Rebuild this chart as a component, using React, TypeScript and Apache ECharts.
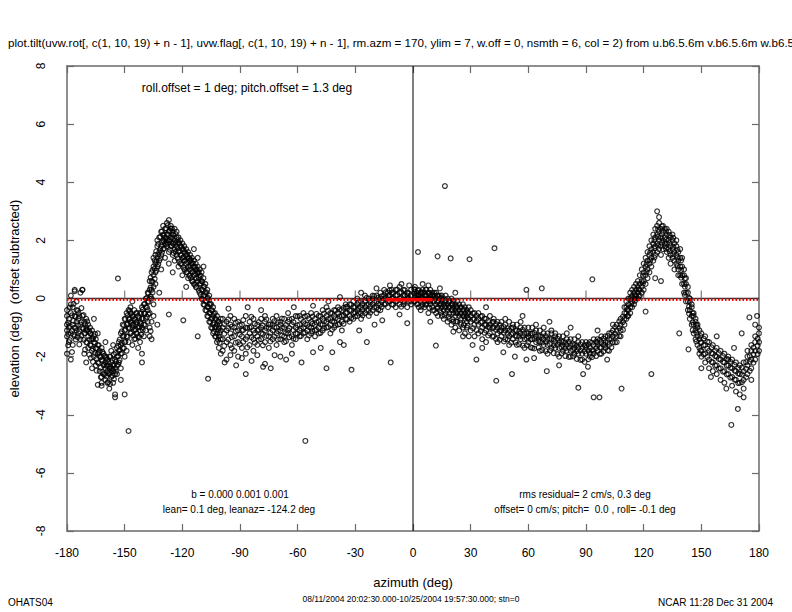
import React, { useEffect, useRef } from "react";
import * as echarts from "echarts";

// ---------- tick values ----------
const xTicks = [-180, -150, -120, -90, -60, -30, 0, 30, 60, 90, 120, 150, 180];

// ---------- scatter data: rows are [azimuth, elevation, elevation, ...] ----------
const troughWest: number[][] = [
  [-180, -0.9, -1.3, -0.6, -1.9, -1.1, -0.4],
  [-179, -1.0, -0.7, -1.5],
  [-178, -0.5, -1.2, -0.2, -2.1],
  [-177, -0.9, -0.3, -1.6],
  [-176, 0.3, -0.6, -1.0, -1.3],
  [-175, -0.4, -0.8, -1.1, -0.1],
  [-174, -1.2, -0.7, -0.5],
  [-173, 0.2, -0.9, -1.4],
  [-172, -0.6, -1.0, 0.3],
  [-171, -0.8, -1.2, -1.9],
  [-170, -1.0, -0.7, -1.5, -1.1],
  [-169, -1.3, -0.9, -1.7],
  [-168, -1.2, -1.6, -1.0],
  [-167, -1.4, -1.8, -1.1, -2.4],
  [-166, -1.5, -1.3, -2.0],
  [-165, -1.7, -1.4, -2.3],
  [-164, -1.9, -1.6, -2.2, -1.2],
  [-163, -2.0, -2.5, -1.8],
  [-162, -2.1, -1.7, -2.7, -2.9],
  [-161, -2.3, -1.9, -2.6],
  [-160, -2.2, -2.4, -2.0, -2.8],
  [-159, -2.5, -2.1, -2.3, -2.9],
  [-158, -2.4, -2.0, -2.6, -3.1],
  [-157, -2.2, -2.7, -2.4, -1.8],
  [-156, -2.5, -2.3, -2.9, -1.6],
  [-155, -2.1, -2.4, -2.6, -3.3],
  [-154, -2.0, -2.3, -1.7, -2.6],
  [-153, -1.8, -2.2, -1.5],
  [-152, -1.6, -1.9, -2.4, -1.2],
  [-151, -1.3, -1.7, -0.9],
  [-150, -1.1, -1.5, -0.7, -2.0],
  [-149, -0.9, -1.3, -0.5, -1.8],
  [-148, -0.7, -1.0, -1.5, -0.4],
  [-147, -0.8, -0.5, -1.2, -0.3],
  [-146, -0.6, -1.0, -0.9, -1.6],
  [-145, -0.7, -1.1, -0.4, -1.4],
  [-144, -0.9, -0.5, -1.2, -0.8],
  [-143, -1.0, -0.6, -1.3, -1.7],
  [-142, -0.8, -1.1, -0.5, -1.5],
  [-141, -0.7, -1.0, -0.3, -1.9],
  [-140, -0.5, -0.9, -0.2, -1.3],
  [-139, -0.3, -0.7, 0.0, -1.1],
  [-138, -0.1, -0.4, 0.2, -0.8],
  [-137, 0.3, 0.0, 0.6, -0.5, -1.0, -1.3],
  [-136, 0.6, 0.3, 0.9, 0.0, -0.8, -1.4],
];

const troughWestExtra: number[][] = [
  [-179.4, -1.22, -0.83, -1.61], [-178.6, -0.94, -1.43, -0.31], [-177.4, -1.12, -0.58, -1.84],
  [-176.6, -0.77, -1.24, -0.18], [-175.5, -0.63, -1.02, -1.41], [-174.4, -0.92, -1.33, -0.42],
  [-173.6, -1.13, -0.61, -1.58], [-172.5, -0.81, -1.27, -0.33], [-171.4, -1.04, -1.42, -0.57],
  [-170.6, -1.19, -0.88, -1.76], [-169.5, -1.08, -1.52, -0.79], [-168.4, -1.41, -1.13, -1.93],
  [-167.6, -1.62, -1.21, -2.04], [-166.5, -1.73, -1.38, -2.18], [-165.4, -1.88, -1.53, -1.22],
  [-164.6, -2.07, -1.72, -2.48], [-163.5, -2.23, -1.86, -1.61], [-162.4, -2.37, -2.02, -2.71],
  [-161.6, -2.14, -2.53, -1.83], [-160.5, -2.61, -2.28, -1.97], [-159.4, -2.32, -2.68, -2.04],
  [-158.6, -2.57, -2.19, -2.88], [-157.5, -2.34, -2.52, -2.01], [-156.4, -2.66, -2.12, -2.43],
  [-155.6, -2.28, -2.77, -1.92], [-154.5, -2.17, -1.88, -2.51], [-153.4, -1.98, -1.63, -2.27],
  [-152.6, -1.77, -1.41, -2.12], [-151.5, -1.52, -1.13, -1.88], [-150.4, -1.28, -0.92, -1.71],
  [-149.6, -1.07, -0.71, -1.49], [-148.5, -0.88, -0.58, -1.32], [-147.4, -0.71, -1.03, -0.42],
  [-146.6, -0.83, -1.18, -0.52], [-145.5, -0.91, -0.62, -1.27], [-144.4, -1.06, -0.72, -1.38],
  [-143.6, -0.82, -1.21, -0.49], [-142.5, -0.97, -0.68, -1.33], [-141.4, -0.88, -0.52, -1.24],
  [-140.6, -0.69, -1.08, -0.38], [-139.5, -0.52, -0.91, -0.18], [-138.4, -0.31, -0.63, 0.02],
  [-137.6, -0.12, 0.18, -0.54], [-136.5, 0.38, 0.07, 0.72, -1.12],
];

const humpWest: number[][] = [
  [-135, 0.8, 1.1, 0.4, 1.4, -0.2, -0.6],
  [-134, 1.2, 1.5, 0.9, 0.5],
  [-133, 1.4, 1.8, 1.1, 2.0],
  [-132, 1.6, 2.1, 1.3, 0.2],
  [-131, 1.8, 2.3, 1.5, 1.0],
  [-130, 2.0, 2.5, 1.7, 2.2],
  [-129, 2.1, 1.9, 2.4, 1.4],
  [-128, 2.2, 2.6, 1.8, 2.0],
  [-127, 2.3, 2.0, 2.7, 1.6, 1.2],
  [-126, 2.1, 2.4, 1.8, 2.5],
  [-125, 2.2, 1.9, 2.3, 1.5],
  [-124, 2.0, 2.4, 1.7, 1.3],
  [-123, 2.1, 1.8, 1.5, 2.3],
  [-122, 1.9, 1.6, 2.1, 1.1],
  [-121, 1.8, 1.5, 1.2, 2.0],
  [-120, 1.7, 1.4, 1.9, 0.8],
  [-119, 1.6, 1.3, 1.0, 1.8],
  [-118, 1.5, 1.2, 1.7, 0.9],
  [-117, 1.4, 1.1, 1.6, 0.7],
  [-116, 1.3, 1.0, 1.5, 0.8],
  [-115, 1.2, 0.9, 1.4, 0.6],
  [-114, 1.1, 0.8, 1.3, 0.5],
  [-113, 1.0, 0.7, 1.2, 0.4],
  [-112, 0.9, 0.6, 1.1, 1.4],
  [-111, 0.8, 0.5, 0.2, 1.0],
  [-110, 0.6, 0.3, 0.9, 0.0],
  [-109, 0.4, 0.1, 0.7, -0.2],
  [-108, 0.2, -0.1, 0.5, -0.4],
  [-107, 0.0, -0.3, -0.6, 0.3],
  [-106, -0.2, -0.5, -0.8, 0.1],
  [-105, -0.4, -0.7, -1.0, -0.2],
  [-104, -0.6, -0.9, -0.3, -1.2],
  [-103, -0.7, -1.0, -1.3, -0.5],
  [-102, -0.9, -1.2, -0.6, -1.5],
  [-101, -1.0, -0.8, -1.3, -1.7],
  [-100, -1.1, -0.7, -1.4, -1.9],
];

const humpWestExtra: number[][] = [
  [-135.5, 0.57, 0.98, 0.21], [-134.4, 1.03, 1.31, 0.68], [-133.6, 1.27, 1.62, 0.96],
  [-132.5, 1.52, 1.88, 1.18], [-131.4, 1.71, 2.12, 1.38], [-130.6, 1.93, 2.31, 1.58],
  [-129.5, 2.18, 1.97, 1.72], [-128.4, 2.42, 2.08, 1.87], [-127.6, 2.21, 2.52, 1.91],
  [-126.5, 2.33, 2.02, 1.68], [-125.4, 2.08, 2.41, 1.81], [-124.6, 2.19, 1.88, 1.57],
  [-123.5, 1.92, 2.22, 1.61], [-122.4, 2.01, 1.72, 1.38], [-121.6, 1.63, 1.91, 1.27],
  [-120.5, 1.78, 1.49, 1.18], [-119.4, 1.42, 1.69, 1.07], [-118.6, 1.58, 1.31, 0.98],
  [-117.5, 1.27, 1.52, 0.91], [-116.4, 1.38, 1.09, 0.78], [-115.6, 1.12, 1.33, 0.71],
  [-114.5, 1.21, 0.92, 0.58], [-113.4, 0.88, 1.08, 0.47], [-112.6, 0.98, 0.69, 0.38],
  [-111.5, 0.71, 0.91, 0.28], [-110.4, 0.52, 0.78, 0.12], [-109.6, 0.31, 0.58, -0.03],
  [-108.5, 0.12, 0.41, -0.22], [-107.4, -0.08, 0.21, -0.41], [-106.6, -0.28, 0.02, -0.62],
  [-105.5, -0.49, -0.18, -0.81], [-104.4, -0.68, -0.41, -1.02], [-103.6, -0.82, -0.52, -1.13],
  [-102.5, -0.98, -0.71, -1.31], [-101.4, -1.09, -0.79, -1.42], [-100.6, -1.18, -0.88, -1.52],
];

const plateauWest: number[][] = [
  [-99, -1.0, -1.4, -0.7, -1.8],
  [-97, -1.1, -0.8, -1.5, -2.1],
  [-95, -1.2, -0.9, -1.6, -0.6],
  [-93, -1.0, -1.3, -1.8, -0.7],
  [-91, -1.1, -1.5, -0.8, -2.0],
  [-89, -1.3, -0.9, -1.7, -1.1],
  [-87, -1.0, -1.4, -0.6, -1.9],
  [-85, -1.2, -0.8, -1.6, -1.0],
  [-83, -1.1, -1.4, -0.7, -1.8],
  [-81, -0.9, -1.3, -1.1, -1.6],
  [-79, -1.0, -0.7, -1.4, -1.2],
  [-77, -1.1, -0.8, -1.5, -0.6],
  [-75, -0.9, -1.3, -1.0, -1.7],
  [-73, -1.1, -0.7, -1.4, -0.9],
  [-71, -1.0, -1.2, -0.6, -1.6],
  [-69, -0.8, -1.1, -1.4, -0.9],
  [-67, -1.0, -0.7, -1.3, -1.5],
  [-65, -1.1, -0.8, -1.2, -0.5],
  [-63, -0.9, -1.3, -0.7, -1.6],
  [-61, -1.0, -1.2, -0.6, -1.4],
  [-59, -0.9, -0.6, -1.1, -1.3],
  [-57, -1.0, -0.8, -1.2, -0.5],
  [-55, -0.9, -1.1, -0.6, -1.4],
  [-53, -0.8, -1.0, -0.5, -1.2],
  [-51, -0.9, -0.7, -1.1, -1.3],
  [-49, -0.8, -1.0, -0.6, -1.2],
  [-47, -0.7, -0.9, -0.4, -1.1],
  [-45, -0.8, -0.6, -1.0, -0.3],
  [-43, -0.7, -0.5, -0.9, -1.2],
  [-41, -0.6, -0.8, -0.4, -1.0],
  [-39, -0.7, -0.5, -0.3, -0.9],
  [-37, -0.6, -0.4, -0.8, -1.1],
  [-35, -0.5, -0.3, -0.7, -0.2],
  [-33, -0.4, -0.6, -0.2, -0.8],
  [-31, -0.5, -0.3, -0.7, -0.1],
  [-29, -0.4, -0.2, -0.6, 0.0],
  [-27, -0.3, -0.5, -0.1, -0.7],
  [-25, -0.3, -0.1, -0.5, 0.1],
  [-23, -0.2, -0.4, 0.0, -0.6],
  [-21, -0.2, 0.0, -0.4, 0.1],
  [-19, -0.1, 0.1, -0.3, -0.5],
  [-17, 0.0, -0.2, 0.2, -0.4],
  [-15, 0.0, 0.1, -0.2, 0.3],
  [-13, 0.1, -0.1, 0.2, -0.3],
  [-11, 0.0, 0.2, -0.2, 0.3],
  [-9, 0.1, -0.1, 0.3, -0.3],
  [-7, 0.0, 0.2, -0.2, 0.4],
  [-5, 0.1, -0.1, 0.3, -0.2],
  [-3, 0.0, 0.2, -0.3, 0.1],
  [-1, 0.1, -0.1, 0.3, -0.2],
];

const plateauWestExtra: number[][] = [
  [-98.2, -1.21, -0.88, -1.63], [-96.1, -1.02, -1.41, -0.72], [-94.3, -1.33, -0.97, -1.71],
  [-92.2, -1.12, -1.52, -0.83], [-90.1, -1.24, -0.91, -1.58], [-88.3, -1.08, -1.49, -0.74],
  [-86.2, -1.31, -1.02, -1.68], [-84.1, -0.98, -1.33, -0.63], [-82.3, -1.19, -0.87, -1.52],
  [-80.2, -1.07, -1.42, -0.81], [-78.1, -1.22, -0.93, -1.61], [-76.3, -1.01, -1.29, -0.72],
  [-74.2, -1.18, -0.89, -1.48], [-72.1, -0.99, -1.31, -0.78], [-70.3, -1.12, -0.82, -1.41],
  [-68.2, -1.01, -1.28, -0.69], [-66.1, -0.91, -1.19, -1.47], [-64.3, -1.02, -0.72, -1.33],
  [-62.2, -1.09, -0.81, -1.38], [-60.1, -0.92, -1.21, -0.62], [-58.3, -1.03, -0.71, -1.29],
  [-56.2, -0.88, -1.17, -0.61], [-54.1, -0.98, -0.69, -1.27], [-52.3, -0.87, -0.62, -1.12],
  [-50.2, -0.82, -1.08, -0.53], [-48.1, -0.89, -0.61, -1.18], [-46.3, -0.78, -0.52, -1.02],
  [-44.2, -0.71, -0.98, -0.42], [-42.1, -0.79, -0.51, -1.07], [-40.3, -0.68, -0.41, -0.92],
  [-38.2, -0.61, -0.88, -0.38], [-36.1, -0.58, -0.32, -0.87], [-34.3, -0.49, -0.72, -0.28],
  [-32.2, -0.42, -0.68, -0.21], [-30.1, -0.48, -0.29, -0.62], [-28.3, -0.32, -0.51, -0.12],
  [-26.2, -0.38, -0.19, -0.58], [-24.1, -0.22, -0.41, 0.02], [-22.3, -0.28, -0.08, -0.49],
  [-20.2, -0.12, -0.31, 0.08], [-18.1, -0.18, 0.02, -0.38], [-16.3, 0.08, -0.11, -0.29],
  [-14.2, 0.02, 0.21, -0.18], [-12.1, 0.11, -0.09, 0.28], [-10.3, 0.01, 0.19, -0.21],
  [-8.2, 0.12, 0.31, -0.08], [-6.1, 0.02, 0.22, -0.28], [-4.3, 0.09, -0.12, 0.29],
  [-2.2, 0.01, 0.18, -0.11],
];

const slopeEast: number[][] = [
  [1, 0.1, 0.3, -0.1, 0.4],
  [2, 0.0, 0.2, -0.2, 0.1],
  [3, 0.1, 0.3, -0.3, 0.0],
  [4, 0.2, -0.1, 0.1, -0.4],
  [5, 0.0, 0.2, 0.3, -0.2],
  [6, 0.1, -0.1, 0.2, -0.3],
  [7, 0.0, 0.3, -0.2, 0.1],
  [8, 0.2, -0.1, 0.0, -0.5],
  [9, 0.1, 0.3, -0.2, -0.1],
  [10, 0.0, 0.2, -0.3, 0.1],
  [11, -0.1, 0.1, -0.4, 0.2],
  [12, 0.0, -0.2, 0.2, -0.5],
  [13, -0.1, 0.1, -0.3, -0.6],
  [14, 0.0, -0.2, 0.1, -0.4],
  [15, -0.1, -0.3, 0.1, -0.6],
  [16, -0.2, 0.0, -0.4, -0.7],
  [17, -0.1, -0.3, 0.1, -0.5],
  [18, -0.2, -0.4, 0.0, -0.8],
  [19, -0.3, -0.1, -0.5, -0.7],
  [20, -0.2, -0.4, 0.0, -0.9],
  [21, -0.3, -0.5, -0.1, -0.8],
  [22, -0.4, -0.2, -0.6, -1.0],
  [23, -0.3, -0.5, -0.1, -0.8],
  [24, -0.4, -0.6, -0.2, -1.1],
  [25, -0.5, -0.3, -0.7, -0.9],
  [26, -0.4, -0.6, -0.2, -1.0],
  [27, -0.5, -0.7, -0.3, -1.2],
  [28, -0.6, -0.4, -0.8, -1.0],
  [29, -0.5, -0.7, -0.3, -1.3],
  [30, -0.6, -0.8, -0.4, -1.1],
  [32, -0.7, -0.5, -0.9, -1.3],
  [34, -0.7, -0.9, -0.5, -1.2],
  [36, -0.8, -0.6, -1.0, -1.4],
  [38, -0.9, -0.7, -1.1, -1.5],
  [40, -0.9, -0.6, -1.2, -1.0],
  [42, -1.0, -0.7, -1.3, -0.8],
  [44, -1.0, -1.2, -0.8, -1.5],
  [46, -1.1, -0.8, -1.3, -1.0],
  [48, -1.1, -0.9, -1.4, -0.7],
  [50, -1.1, -1.3, -0.8, -1.6],
  [52, -1.2, -0.9, -1.4, -1.0],
  [54, -1.1, -1.3, -0.9, -1.6],
  [56, -1.2, -1.0, -1.4, -0.8],
  [58, -1.2, -1.4, -1.0, -1.7],
  [60, -1.3, -1.0, -1.5, -1.2],
  [62, -1.2, -1.4, -1.0, -1.7],
  [64, -1.3, -1.1, -1.5, -0.9],
  [66, -1.3, -1.5, -1.1, -1.8],
  [68, -1.4, -1.2, -1.6, -1.0],
  [70, -1.4, -1.6, -1.2, -1.9],
  [72, -1.4, -1.2, -1.7, -1.1],
  [74, -1.5, -1.3, -1.7, -1.2],
  [76, -1.5, -1.7, -1.3, -2.0],
  [78, -1.5, -1.3, -1.8, -1.6],
  [80, -1.6, -1.4, -1.8, -1.2],
  [82, -1.6, -1.8, -1.4, -2.0],
  [84, -1.6, -1.4, -1.9, -1.7],
  [86, -1.7, -1.5, -1.9, -1.3],
  [88, -1.7, -1.9, -1.5, -2.1],
  [90, -1.7, -1.5, -1.9, -1.6],
  [92, -1.7, -1.9, -1.5, -2.0],
  [94, -1.6, -1.8, -1.4, -1.9],
  [96, -1.6, -1.4, -1.8, -1.5],
  [98, -1.5, -1.7, -1.3, -1.9],
  [100, -1.5, -1.3, -1.7, -1.6],
  [102, -1.4, -1.2, -1.6, -1.8],
  [104, -1.3, -1.1, -1.5, -0.9],
  [106, -1.1, -1.3, -0.9, -1.5],
  [108, -0.9, -1.1, -0.7, -1.3],
  [110, -0.7, -0.9, -0.5, -0.3],
];

const slopeEastExtra: number[][] = [
  [0.6, 0.18, -0.09, 0.32], [2.5, 0.11, -0.18, 0.27], [4.4, 0.02, 0.21, -0.28],
  [6.6, 0.09, -0.21, 0.31], [8.5, -0.02, 0.19, -0.32], [10.4, -0.08, 0.12, -0.41],
  [12.6, -0.12, 0.09, -0.33], [14.5, -0.18, 0.02, -0.49], [16.4, -0.28, -0.07, -0.58],
  [18.6, -0.31, -0.12, -0.62], [20.5, -0.38, -0.18, -0.71], [22.4, -0.49, -0.28, -0.79],
  [24.6, -0.52, -0.31, -0.83], [26.5, -0.61, -0.38, -0.91], [28.4, -0.68, -0.49, -0.93],
  [31.2, -0.72, -0.51, -1.02], [33.1, -0.78, -0.59, -1.09], [35.3, -0.83, -0.62, -1.12],
  [37.2, -0.91, -0.69, -1.18], [39.1, -0.98, -0.78, -1.27], [41.3, -1.02, -0.81, -1.31],
  [43.2, -1.08, -0.88, -1.39], [45.1, -1.12, -0.91, -1.42], [47.3, -1.18, -0.98, -1.48],
  [49.2, -1.21, -1.02, -1.41], [51.1, -1.23, -1.01, -1.52], [53.3, -1.28, -1.09, -1.51],
  [55.2, -1.31, -1.12, -1.58], [57.1, -1.29, -1.08, -1.62], [59.3, -1.38, -1.19, -1.61],
  [61.2, -1.41, -1.21, -1.68], [63.1, -1.39, -1.18, -1.72], [65.3, -1.48, -1.28, -1.69],
  [67.2, -1.51, -1.31, -1.78], [69.1, -1.49, -1.29, -1.81], [71.3, -1.58, -1.38, -1.79],
  [73.2, -1.61, -1.41, -1.88], [75.1, -1.59, -1.38, -1.91], [77.3, -1.68, -1.48, -1.89],
  [79.2, -1.71, -1.51, -1.98], [81.1, -1.69, -1.49, -2.01], [83.3, -1.78, -1.58, -1.99],
  [85.2, -1.81, -1.61, -2.08], [87.1, -1.79, -1.58, -2.11], [89.3, -1.82, -1.62, -2.18],
  [91.2, -1.79, -1.58, -2.09], [93.1, -1.78, -1.52, -2.02], [95.3, -1.71, -1.49, -1.98],
  [97.2, -1.68, -1.42, -1.91], [99.1, -1.59, -1.38, -1.82], [101.3, -1.51, -1.29, -1.78],
  [103.2, -1.39, -1.18, -1.68], [105.1, -1.21, -0.98, -1.51], [107.3, -1.02, -0.79, -1.29],
  [109.2, -0.81, -0.62, -1.08],
];

const humpEast: number[][] = [
  [111, -0.5, -0.3, -0.7, -0.1],
  [112, -0.4, -0.2, 0.0, -0.6],
  [113, -0.3, 0.0, -0.5, 0.2],
  [114, -0.1, 0.1, -0.3, 0.3],
  [115, 0.0, 0.2, -0.2, 0.4],
  [116, 0.1, 0.3, 0.0, 0.5],
  [117, 0.2, 0.4, 0.0, 0.6],
  [118, 0.3, 0.5, 0.1, 0.8],
  [119, 0.4, 0.6, 0.2, 1.0],
  [120, 0.6, 0.9, 0.3, 1.2],
  [121, 0.8, 1.1, 0.5, 1.4],
  [122, 1.0, 1.3, 0.7, 1.6],
  [123, 1.2, 1.5, 0.9, 1.8],
  [124, 1.4, 1.7, 1.1, 2.0],
  [125, 1.6, 1.9, 1.3, 2.2],
  [126, 1.8, 2.1, 1.5, 2.4, 0.7],
  [127, 1.9, 2.2, 1.6, 2.5, 3.0],
  [128, 2.0, 2.3, 1.7, 2.6, 2.8],
  [129, 2.1, 1.8, 2.4, 1.5, 0.6],
  [130, 2.0, 2.3, 1.7, 2.5],
  [131, 2.1, 1.8, 2.4, 1.9],
  [132, 1.9, 2.2, 1.6, 2.4],
  [133, 2.0, 1.7, 2.3, 1.4],
  [134, 1.8, 2.1, 1.5, 1.2],
  [135, 1.7, 2.0, 1.4, 2.2],
  [136, 1.6, 1.9, 1.3, 1.0],
  [137, 1.5, 1.8, 1.2, 2.0],
  [138, 1.3, 1.6, 1.0, 0.8],
  [139, 1.1, 1.4, 0.8, 1.7],
  [140, 0.8, 1.1, 0.5, 1.4],
  [141, 0.5, 0.8, 0.2, 1.0],
  [142, 0.2, 0.5, -0.1, 0.7],
  [143, -0.1, 0.2, -0.4, 0.4],
  [144, -0.4, -0.1, -0.7, 0.0],
  [145, -0.6, -0.3, -0.9, -0.2],
  [146, -0.9, -0.6, -1.2, -0.5],
  [147, -1.1, -0.8, -1.4, -0.7],
  [148, -1.3, -1.0, -1.6, -0.9],
  [149, -1.4, -1.1, -1.7, -1.9],
  [150, -1.5, -1.2, -1.8, -2.0],
  [152, -1.6, -1.3, -1.9, -2.2],
  [154, -1.8, -1.5, -2.1, -2.4],
  [156, -1.9, -1.6, -2.2, -2.5],
  [158, -2.0, -1.7, -2.3, -2.6],
  [160, -2.1, -1.8, -2.4, -2.8],
  [162, -2.2, -1.9, -2.5, -2.9],
  [164, -2.3, -2.0, -2.6, -2.1],
  [166, -2.4, -2.1, -2.7, -3.0],
  [168, -2.5, -2.2, -2.8, -3.2],
  [170, -2.6, -2.3, -2.9, -3.3],
  [172, -2.5, -2.2, -2.8, -3.1],
  [174, -2.3, -2.0, -2.6, -1.8],
  [176, -2.1, -1.8, -2.4, -1.6],
  [178, -1.8, -1.5, -2.1, -1.3],
  [180, -1.5, -1.2, -1.8, -1.0],
];

const humpEastExtra: number[][] = [
  [111.5, -0.38, -0.61], [113.6, -0.18, 0.03], [115.5, 0.12, -0.08], [117.4, 0.31, 0.08],
  [119.6, 0.52, 0.79], [121.5, 0.91, 1.18], [123.4, 1.31, 1.58], [125.6, 1.72, 2.01, 1.41],
  [127.5, 2.12, 2.38, 1.82], [129.4, 2.21, 1.92, 2.48], [131.6, 2.02, 2.31, 1.71],
  [133.5, 1.91, 2.18, 1.62], [135.4, 1.78, 1.52, 2.09], [137.6, 1.41, 1.68, 1.12],
  [139.5, 0.98, 1.31, 0.72], [141.4, 0.41, 0.69, 0.12], [143.6, -0.28, 0.02, -0.52],
  [145.5, -0.82, -0.51, -1.09], [147.4, -1.18, -0.91, -1.48], [149.6, -1.52, -1.29, -1.78],
  [151.2, -1.61, -1.38, -1.92], [153.1, -1.72, -1.49, -2.01], [155.3, -1.88, -1.68, -2.18],
  [157.2, -1.98, -1.79, -2.31], [159.1, -2.08, -1.88, -2.41], [161.3, -2.18, -1.98, -2.52],
  [163.2, -2.31, -2.08, -2.61], [165.1, -2.38, -2.18, -2.72], [167.3, -2.48, -2.28, -2.79],
  [169.2, -2.58, -2.39, -2.91], [171.1, -2.61, -2.38, -2.88], [173.3, -2.42, -2.19, -2.71],
  [175.2, -2.18, -1.98, -2.49], [177.1, -1.92, -1.69, -2.21], [179.3, -1.62, -1.38, -1.91],
];

// loose points around the edges of the main band
const fringe: number[][] = [
  [-178, 0.1], [-170, -2.2], [-166, -0.7], [-160, -1.5], [-152, -2.8], [-146, -0.1],
  [-141, -2.2], [-133, -0.9], [-125, 0.9], [-118, 0.4], [-114, 1.7], [-109, 1.1],
  [-98, -2.2], [-95, -1.95], [-92, -2.3], [-89, -2.05], [-84, -2.15], [-81, -1.95],
  [-78, -2.35], [-72, -1.95], [-66, -2.1], [-63, -1.9], [-58, -2.2], [-52, -1.85],
  [-48, -1.7], [-42, -1.85], [-38, -1.5], [-28, -1.1], [-20, -0.9], [-16, -0.75],
  [-7, -0.55], [-96, -0.35], [-86, -0.3], [-79, -0.4], [-62, -0.3], [-52, -0.25],
  [-44, -0.1], [-38, 0.05], [-27, 0.2], [-19, 0.35], [-12, 0.45], [-6, 0.5], [-2, 0.45],
  [5, 0.5], [8, 0.45], [14, 0.35], [22, 0.2], [26, -1.3], [31, -1.6], [36, -1.7],
  [38, -0.3], [47, -1.85], [53, -2.0], [57, -0.6], [63, -2.05], [71, -0.8], [76, -2.3],
  [82, -1.0], [91, -2.35], [96, -1.1], [101, -2.1], [150, -2.4], [155, -2.7], [158, -1.3],
  [163, -3.1], [167, -1.7], [172, -3.4], [176, -2.8], [178, -0.9],
];

const outliers: number[][] = [
  [-176, 0.25], [-172, 0.3], [-153.5, 0.69], [-164, -2.97], [-162, -3.0],
  [-157.6, -2.94], [-155, -3.4], [-150, -3.3], [-148, -4.56], [-127, -0.55],
  [-119.5, -0.75], [-112, -1.3], [-106.6, -2.76], [-87, -2.6], [-74, -2.4],
  [-56, -4.9], [-45, -2.4], [-36, -1.6], [-24, -1.5], [-11.6, -2.2],
  [-3, -0.85], [-69, -2.0], [-77, -2.25], [-32, -2.45], [16.6, 3.87],
  [2.6, 1.6], [12.8, 1.45], [19.6, 1.38], [29.4, 1.35], [42.4, 1.73],
  [59, 0.3], [67, 0.35], [11.9, -1.62], [21, -1.14], [33, -2.1],
  [43.3, -2.83], [51.5, -2.6], [69.6, -2.5], [86, -3.07], [88.5, -2.6],
  [59, -2.1], [9, -0.8], [93.3, 0.66], [94, -3.4], [97, -3.4],
  [108.5, -3.1], [124, -2.6], [121, -0.45], [138.5, -1.2], [143.3, -1.75],
  [165.6, -4.35], [169, -3.8], [175, -0.65], [179, -0.6], [171, -1.2],
];

// red fitted curve (dotted) and its solid middle part
const fitLine: number[][] = [[-180, -0.04], [180, -0.04]];
const fitSolid: number[][] = [[-14, -0.04], [10, -0.04]];

const FONT = "'Liberation Sans', Arial, sans-serif";

function expand(rows: number[][]): number[][] {
  const out: number[][] = [];
  rows.forEach((r) => {
    for (let i = 1; i < r.length; i++) out.push([r[0], r[i]]);
  });
  return out;
}

export default function App() {
  const ref = useRef<HTMLDivElement>(null);
  useEffect(() => {
    document.body.style.margin = "0";
    if (!ref.current) return;
    const chart = echarts.init(ref.current, undefined, { renderer: "svg" });
    const points = [
      ...expand(troughWest),
      ...expand(troughWestExtra),
      ...expand(humpWest),
      ...expand(humpWestExtra),
      ...expand(plateauWest),
      ...expand(plateauWestExtra),
      ...expand(slopeEast),
      ...expand(slopeEastExtra),
      ...expand(humpEast),
      ...expand(humpEastExtra),
      ...fringe,
      ...outliers,
    ];
    const axisGray = "#6a6a6a";
    const commonX = {
      type: "value" as const,
      min: -180,
      max: 180,
      interval: 30,
      splitLine: { show: false },
      axisLine: { show: true, onZero: false, lineStyle: { color: axisGray, width: 1.5 } },
      axisTick: { show: true, inside: true, length: 7, lineStyle: { color: axisGray, width: 1.2 } },
    };
    const commonY = {
      type: "value" as const,
      min: -8,
      max: 8,
      interval: 2,
      splitLine: { show: false },
      axisLine: { show: true, onZero: false, lineStyle: { color: axisGray, width: 1.5 } },
      axisTick: { show: true, inside: true, length: 7, lineStyle: { color: axisGray, width: 1.2 } },
    };
    chart.setOption({
      animation: false,
      backgroundColor: "#fff",
      grid: { left: 65, right: 33, top: 66, bottom: 81 },
      xAxis: [
        {
          ...commonX,
          position: "bottom",
          axisLabel: { show: true, margin: 16, fontSize: 12, color: "#000", fontFamily: FONT },
          name: "azimuth (deg)",
          nameLocation: "middle",
          nameGap: 45,
          nameTextStyle: { fontSize: 13, color: "#000", fontFamily: FONT },
        },
        { ...commonX, position: "top", axisLabel: { show: false } },
      ],
      yAxis: [
        {
          ...commonY,
          position: "left",
          axisLabel: { show: true, rotate: 90, margin: 20, fontSize: 12, color: "#000", fontFamily: FONT },
          name: "elevation (deg)  (offset subtracted)",
          nameLocation: "middle",
          nameGap: 46,
          nameTextStyle: { fontSize: 13, color: "#000", fontFamily: FONT },
        },
        { ...commonY, position: "right", axisLabel: { show: false } },
      ],
      series: [
        {
          type: "line",
          data: [[-180, 0], [180, 0]],
          symbol: "none",
          lineStyle: { color: "#333", width: 1.5 },
          z: 1,
        },
        {
          type: "scatter",
          data: xTicks.slice(1, -1).map((t) => [t, 0]),
          symbol: "rect",
          symbolSize: [1.3, 8],
          symbolOffset: [0, -4],
          itemStyle: { color: axisGray },
          z: 1,
        },
        {
          type: "line",
          data: [[0, -8], [0, 8]],
          symbol: "none",
          lineStyle: { color: "#000", width: 1 },
          z: 1,
        },
        {
          type: "scatter",
          data: points,
          symbol: "circle",
          symbolSize: 4.8,
          itemStyle: { color: "rgba(0,0,0,0)", borderColor: "#000", borderWidth: 1.2 },
          z: 2,
        },
        {
          type: "line",
          data: fitLine,
          symbol: "none",
          lineStyle: { color: "#ff0000", width: 2.5, type: [1.5, 2] },
          z: 3,
        },
        {
          type: "line",
          data: fitSolid,
          symbol: "none",
          lineStyle: { color: "#ff0000", width: 3.5 },
          z: 3,
        },
      ],
      graphic: [
        {
          type: "text",
          left: 8,
          top: 36,
          style: {
            text: "plot.tilt(uvw.rot[, c(1, 10, 19) + n - 1], uvw.flag[, c(1, 10, 19) + n - 1], rm.azm = 170, ylim = 7, w.off = 0, nsmth = 6, col = 2) from u.b6.5.6m v.b6.5.6m w.b6.5.6m",
            fontSize: 11.6,
            fontFamily: FONT,
            fill: "#000",
          },
        },
        {
          type: "text",
          x: 247,
          y: 88,
          style: { text: "roll.offset = 1 deg; pitch.offset = 1.3 deg", fontSize: 12, fontFamily: FONT, fill: "#000", align: "center", verticalAlign: "middle" },
        },
        {
          type: "text",
          x: 240,
          y: 494,
          style: { text: "b = 0.000 0.001 0.001", fontSize: 10, fontFamily: FONT, fill: "#000", align: "center", verticalAlign: "middle" },
        },
        {
          type: "text",
          x: 239,
          y: 509,
          style: { text: "lean= 0.1 deg, leanaz= -124.2 deg", fontSize: 10, fontFamily: FONT, fill: "#000", align: "center", verticalAlign: "middle" },
        },
        {
          type: "text",
          x: 585,
          y: 494,
          style: { text: "rms residual= 2 cm/s, 0.3 deg", fontSize: 10, fontFamily: FONT, fill: "#000", align: "center", verticalAlign: "middle" },
        },
        {
          type: "text",
          x: 585,
          y: 509,
          style: { text: "offset= 0 cm/s; pitch=  0.0 , roll= -0.1 deg", fontSize: 10, fontFamily: FONT, fill: "#000", align: "center", verticalAlign: "middle" },
        },
        {
          type: "text",
          x: 8,
          y: 602,
          style: { text: "OHATS04", fontSize: 10, fontFamily: FONT, fill: "#000", align: "left", verticalAlign: "middle" },
        },
        {
          type: "text",
          x: 411,
          y: 599,
          style: { text: "08/11/2004 20:02:30.000-10/25/2004 19:57:30.000; stn=0", fontSize: 8.5, fontFamily: FONT, fill: "#000", align: "center", verticalAlign: "middle" },
        },
        {
          type: "text",
          x: 773,
          y: 602,
          style: { text: "NCAR 11:28 Dec 31 2004", fontSize: 10, fontFamily: FONT, fill: "#000", align: "right", verticalAlign: "middle" },
        },
      ],
    });
    return () => chart.dispose();
  }, []);
  return <div ref={ref} style={{ width: 792, height: 612 }} />;
}
